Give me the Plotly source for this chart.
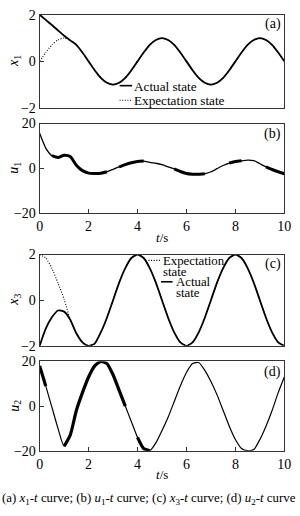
import plotly.graph_objects as go

# ---------------- data ----------------
t = [i * 0.25 for i in range(41)]

x1_actual = [2, 1.78, 1.56, 1.33, 1.1, 0.9, 0.71, 0.38, 0, -0.38, -0.71, -0.92, -1,
             -0.92, -0.71, -0.38, 0, 0.38, 0.71, 0.92, 1, 0.92, 0.71, 0.38, 0,
             -0.38, -0.71, -0.92, -1, -0.92, -0.71, -0.38, 0, 0.38, 0.71, 0.92, 1,
             0.92, 0.71, 0.38, 0]
x1_expect = [0, 0.38, 0.71, 0.92, 1.0, 0.9, 0.71, 0.38, 0, -0.38, -0.71, -0.92, -1,
             -0.92, -0.71, -0.38, 0, 0.38, 0.71, 0.92, 1, 0.92, 0.71, 0.38, 0,
             -0.38, -0.71, -0.92, -1, -0.92, -0.71, -0.38, 0, 0.38, 0.71, 0.92, 1,
             0.92, 0.71, 0.38, 0]

u1 = [15.6, 9, 5.6, 4.8, 5.8, 5.2, 1.3, -1.1, -2.2, -2.4, -2.3, -1.6, -0.5, 0.6, 1.6,
      2.4, 3.0, 3.2, 2.6, 2.2, 1.6, 0.6, -0.3, -1.5, -2.4, -2.7, -2.7, -2.5, -1.6,
      -0.2, 1.2, 2.3, 3.0, 3.3, 3.6, 3.4, 2.0, 0.6, -0.6, -1.6, -2.5]
u1_chatter = [(0.5, 1.5), (1.75, 2.75), (3.25, 4.25), (5.5, 6.75), (7.75, 8.25), (9.25, 10)]

x3_actual = [-2, -1.25, -0.75, -0.45, -0.5, -0.85, -1.45, -1.85, -2, -1.9, -1.41, -0.77, 0,
             0.77, 1.41, 1.85, 2, 1.85, 1.41, 0.77, 0, -0.77, -1.41, -1.85, -2,
             -1.85, -1.41, -0.77, 0, 0.77, 1.41, 1.85, 2, 1.85, 1.41, 0.77, 0,
             -0.77, -1.41, -1.85, -2]
x3_expect = [2, 1.85, 1.4, 0.75, 0.05, -0.85, -1.45, -1.85, -2, -1.9, -1.41, -0.77, 0,
             0.77, 1.41, 1.85, 2, 1.85, 1.41, 0.77, 0, -0.77, -1.41, -1.85, -2,
             -1.85, -1.41, -0.77, 0, 0.77, 1.41, 1.85, 2, 1.85, 1.41, 0.77, 0,
             -0.77, -1.41, -1.85, -2]

u2 = [18, 9, -0.5, -10, -18, -13, -2, 6, 13, 18, 20, 19, 14, 7, 0, -7, -14, -19, -20,
      -16.5, -11, -5, 2, 9, 15, 19, 19.5, 16, 11, 5, -2, -9, -15, -19, -20, -19.5,
      -15, -9, -2, 6, 13]
u2_chatter = [(0, 0.25), (1.0, 1.25), (1.5, 3.0), (3.25, 3.5), (4.0, 4.5)]

x_ticks = [0, 2, 4, 6, 8, 10]

# ---------------- layout helpers ----------------
W, H = 300, 516
FONT = "Liberation Serif"
DOT = "1px,1.6px"


def px_x(p):
    return p / W


def px_y(p):
    return 1 - p / H


def masked(vals, intervals):
    out = []
    for ti, v in zip(t, vals):
        out.append(v if any(a - 1e-9 <= ti <= b + 1e-9 for a, b in intervals) else None)
    return out


fig = go.Figure()
line_k = dict(color="black", shape="spline", smoothing=0.6)

# (a)
fig.add_trace(go.Scatter(x=t, y=x1_expect, mode="lines", name="Expectation state",
                         line=dict(width=1.1, dash=DOT, **line_k), xaxis="x", yaxis="y"))
fig.add_trace(go.Scatter(x=t, y=x1_actual, mode="lines", name="Actual state",
                         line=dict(width=1.8, **line_k), xaxis="x", yaxis="y"))
# (b)
fig.add_trace(go.Scatter(x=t, y=u1, mode="lines", name="u1",
                         line=dict(width=1.3, **line_k), xaxis="x2", yaxis="y2"))
fig.add_trace(go.Scatter(x=t, y=masked(u1, u1_chatter), mode="lines", name="u1 chattering",
                         line=dict(width=3.0, **line_k), xaxis="x2", yaxis="y2"))
# (c)
fig.add_trace(go.Scatter(x=t, y=x3_expect, mode="lines", name="Expectation state",
                         line=dict(width=1.1, dash=DOT, **line_k), xaxis="x3", yaxis="y3"))
fig.add_trace(go.Scatter(x=t, y=x3_actual, mode="lines", name="Actual state",
                         line=dict(width=1.8, **line_k), xaxis="x3", yaxis="y3"))
# (d)
fig.add_trace(go.Scatter(x=t, y=u2, mode="lines", name="u2",
                         line=dict(width=1.2, **line_k), xaxis="x4", yaxis="y4"))
fig.add_trace(go.Scatter(x=t, y=masked(u2, u2_chatter), mode="lines", name="u2 chattering",
                         line=dict(width=3.2, **line_k), xaxis="x4", yaxis="y4"))

xdom = [px_x(37), px_x(291)]
panels = [  # (top px, bottom px, yrange, yticks, show x labels)
    (8, 104, [-2, 2], [-2, 0, 2], False),
    (120, 212, [-20, 20], [-20, 0, 20], True),
    (255, 349, [-2, 2], [-2, 0, 2], False),
    (365, 457, [-20, 20], [-20, 0, 20], True),
]

axis_common = dict(showgrid=False, zeroline=False, showline=True, linecolor="#333",
                   linewidth=1, mirror=True,
                   tickfont=dict(family=FONT, size=14, color="black"))
layout = dict(width=W, height=H, margin=dict(l=0, r=0, t=0, b=0),
              paper_bgcolor="white", plot_bgcolor="white", showlegend=False,
              font=dict(family=FONT, color="black"))
for i, (top, bot, yr, yt, showx) in enumerate(panels, start=1):
    xs = "" if i == 1 else str(i)
    layout["xaxis" + xs] = dict(domain=xdom, range=[0, 10], anchor="y" + xs,
                                tickvals=x_ticks, showticklabels=showx,
                                ticks="inside" if showx else "", ticklen=4,
                                tickcolor="#333", **axis_common)
    layout["yaxis" + xs] = dict(domain=[px_y(bot), px_y(top)], range=yr, anchor="x" + xs,
                                tickvals=yt, ticks="inside", ticklen=4, tickcolor="#333",
                                **axis_common)

# ---- legend keys (drawn as paper-space key lines + text) ----
shapes = []
ann = []
leg_font = dict(family=FONT, size=13.2, color="black")
leg_font_c = dict(family=FONT, size=12.8, color="black")


def key(x0, x1, ypx, dotted, width):
    shapes.append(dict(type="line", xref="paper", yref="paper",
                       x0=px_x(x0), x1=px_x(x1), y0=px_y(ypx), y1=px_y(ypx),
                       line=dict(color="black", width=width,
                                 dash=DOT if dotted else "solid")))


def text(s, xpx, ypx, font, anchor="left", angle=0):
    ann.append(dict(text=s, x=px_x(xpx), y=px_y(ypx), xref="paper", yref="paper",
                    xanchor=anchor, yanchor="middle", showarrow=False, font=font,
                    textangle=angle))


key(120, 133, 81, False, 1.6)
text("Actual state", 133, 81.5, leg_font)
key(120, 133, 96, True, 1.1)
text("Expectation state", 133, 96.5, leg_font)

key(150, 163, 261, True, 1.1)
text("Expectation", 163, 261.5, leg_font_c)
text("state", 163, 272.5, leg_font_c)
key(163, 175, 283, False, 1.6)
text("Actual", 176, 283.5, leg_font_c)
text("state", 176, 294.5, leg_font_c)

lab_font = dict(family=FONT, size=14, color="black")
for lab, ypx in [("(a)", 18), ("(b)", 131), ("(c)", 265), ("(d)", 376)]:
    text(lab, 290, ypx, lab_font, anchor="right")
for lab, ypx in [("<i>x</i><sub>1</sub>", 56), ("<i>u</i><sub>1</sub>", 166),
                 ("<i>x</i><sub>3</sub>", 302), ("<i>u</i><sub>2</sub>", 411)]:
    text(lab, 11, ypx, lab_font, anchor="center", angle=-90)
for ypx in [237, 482]:
    text("<i>t</i>/s", 164, ypx, dict(family=FONT, size=13, color="black"), anchor="center")
text("(a) <i>x</i><sub>1</sub>-<i>t</i> curve; (b) <i>u</i><sub>1</sub>-<i>t</i> curve; "
     "(c) <i>x</i><sub>3</sub>-<i>t</i> curve; (d) <i>u</i><sub>2</sub>-<i>t</i> curve",
     150, 507, dict(family=FONT, size=12.9, color="black"), anchor="center")

layout["annotations"] = ann
layout["shapes"] = shapes

fig.update_layout(**layout)
fig.write_html("out.html")
